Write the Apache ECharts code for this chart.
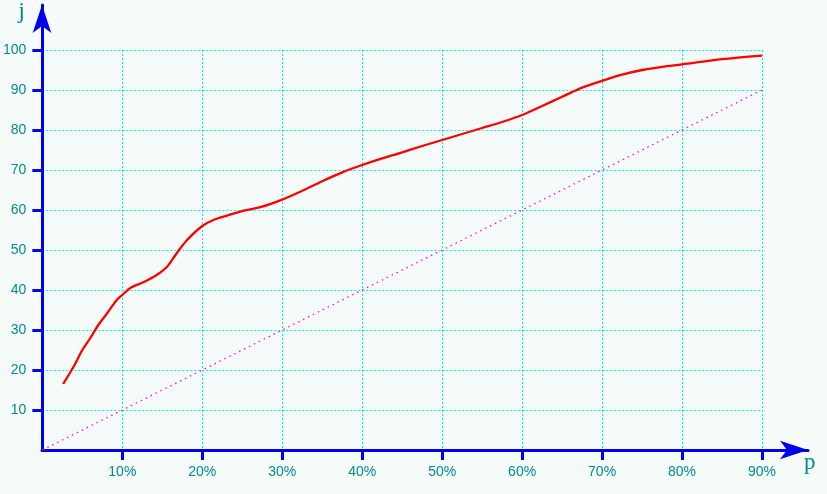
<!DOCTYPE html>
<html>
<head>
<meta charset="utf-8">
<script src="https://cdn.jsdelivr.net/npm/echarts@6/dist/echarts.min.js"></script>
<style>
html,body{margin:0;padding:0;background:#F5FBF8;}
#c{width:827px;height:494px;}
</style>
</head>
<body>
<div id="c"></div>
<script>
// Data (p in percent, j value)
const curveP = [2.6, 3.9, 5.0, 6.0, 7.0, 8.1, 9.3, 10.0, 11.0, 12.7, 14.3, 15.6, 16.8, 18.1, 20.0, 21.4, 23.1, 24.75, 27.25, 30.0, 32.5, 35.0, 37.5, 40.0, 42.5, 45.0, 47.5, 50.0, 52.5, 55.0, 57.5, 60.0, 62.5, 65.0, 67.5, 70.0, 72.25, 75.0, 77.5, 80.0, 85.0, 90.0];
const curveJ = [16.5, 20.8, 25.0, 28.0, 31.25, 34.2, 37.5, 38.75, 40.5, 42.0, 43.75, 45.8, 49.2, 52.5, 56.0, 57.5, 58.6, 59.6, 60.7, 62.6, 64.8, 67.2, 69.4, 71.25, 72.9, 74.4, 76.0, 77.5, 79.0, 80.5, 82.0, 83.75, 86.0, 88.3, 90.6, 92.3, 93.7, 95.0, 95.8, 96.4, 97.7, 98.6];
const diagP = [0, 90];
const diagJ = [0, 90];
const xTicks = [10, 20, 30, 40, 50, 60, 70, 80, 90];
const yTicks = [10, 20, 30, 40, 50, 60, 70, 80, 90, 100];

const blue = '#0000EE';
const teal = '#008C8C';
const chart = echarts.init(document.getElementById('c'));
chart.setOption({
  backgroundColor: '#F5FBF8',
  animation: false,
  grid: [
    {left: 42, top: 50, width: 720, height: 400},
    {left: 42, top: 4, width: 766, height: 446}
  ],
  xAxis: [
    {
      gridIndex: 0, type: 'value', min: 0, max: 90, interval: 10,
      axisLine: {show: false},
      axisTick: {show: true, customValues: xTicks, length: 10, lineStyle: {color: blue, width: 3}},
      axisLabel: {show: true, customValues: xTicks, margin: 15, color: teal, fontSize: 14,
        fontFamily: 'Liberation Sans', formatter: '{value}%'},
      splitLine: {show: true, lineStyle: {color: '#00EEEE', width: 1, type: [2, 2]}}
    },
    {
      gridIndex: 1, type: 'value', min: 0, max: 1,
      axisLine: {show: true, onZero: false, symbol: ['none', 'arrow'], symbolSize: [14, 28], symbolOffset: [0, 0],
        lineStyle: {color: blue, width: 3}},
      axisTick: {show: false}, axisLabel: {show: false}, splitLine: {show: false},
      name: 'p', nameLocation: 'end', nameGap: -4,
      nameTextStyle: {color: teal, fontSize: 23, fontFamily: 'Liberation Serif', align: 'left', verticalAlign: 'top', padding: [1, 0, 0, 0]}
    }
  ],
  yAxis: [
    {
      gridIndex: 0, type: 'value', min: 0, max: 100, interval: 10,
      axisLine: {show: false},
      axisTick: {show: true, customValues: yTicks, length: 10, lineStyle: {color: blue, width: 3}},
      axisLabel: {show: true, customValues: yTicks, margin: 16, color: teal, fontSize: 14,
        fontFamily: 'Liberation Sans'},
      splitLine: {show: true, lineStyle: {color: '#00EEEE', width: 1, type: [2, 2]}}
    },
    {
      gridIndex: 1, type: 'value', min: 0, max: 1,
      axisLine: {show: true, onZero: false, symbol: ['none', 'arrow'], symbolSize: [14, 28], symbolOffset: [0, 0],
        lineStyle: {color: blue, width: 3}},
      axisTick: {show: false}, axisLabel: {show: false}, splitLine: {show: false},
      name: 'j', nameLocation: 'end', nameGap: 5,
      nameTextStyle: {color: teal, fontSize: 24, fontFamily: 'Liberation Serif', align: 'right', verticalAlign: 'top', padding: [0, 17, 0, 0]}
    }
  ],
  series: [
    {
      type: 'line', xAxisIndex: 0, yAxisIndex: 0, showSymbol: false, symbol: 'none',
      data: diagP.map((p, i) => [p, diagJ[i]]),
      lineStyle: {color: '#FF00FF', width: 1.3, type: [1.5, 4]}, z: 3
    },
    {
      type: 'line', xAxisIndex: 0, yAxisIndex: 0, showSymbol: false, symbol: 'none', smooth: 0.3,
      data: curveP.map((p, i) => [p, curveJ[i]]),
      lineStyle: {color: '#FF0000', width: 2.3}, z: 4
    }
  ]
});
</script>
</body>
</html>
